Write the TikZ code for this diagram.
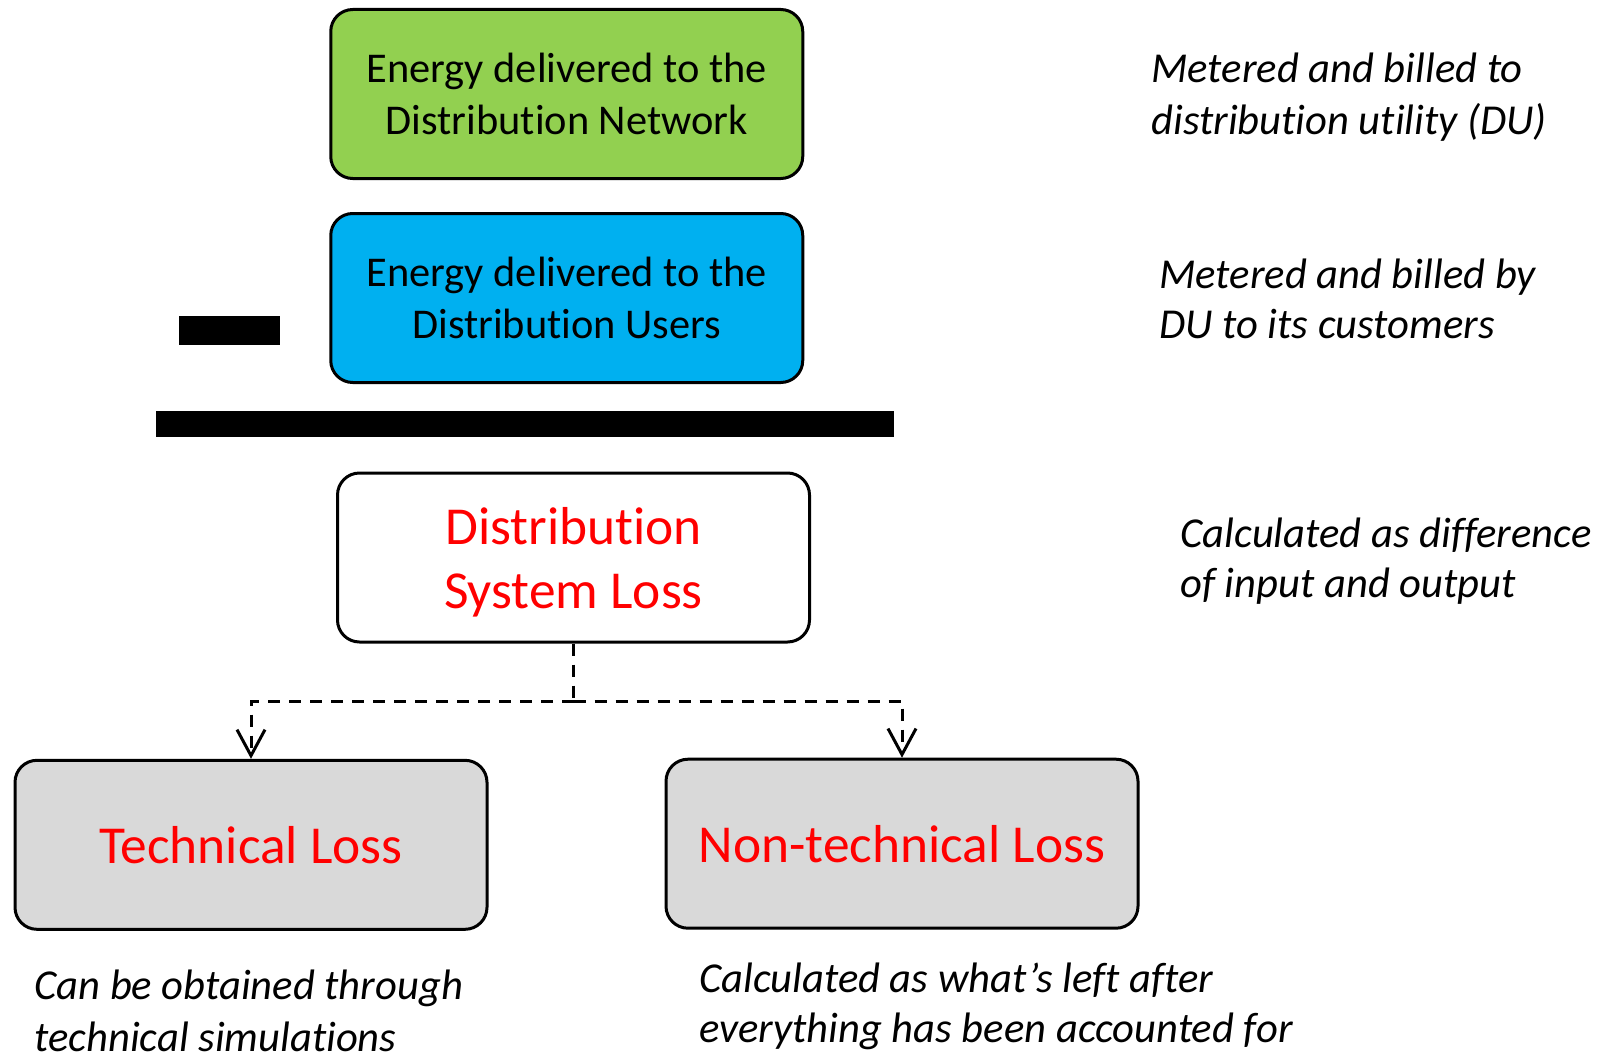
\documentclass[tikz,border=0pt]{standalone}
\usepackage{fontspec}
\setmainfont{Carlito}[Ligatures={NoCommon}]
\usetikzlibrary{arrows.meta}
\definecolor{boxgreen}{HTML}{92D050}
\definecolor{boxblue}{HTML}{00B0F0}
\definecolor{boxgray}{HTML}{D9D9D9}
\definecolor{lossred}{HTML}{FF0000}
\begin{document}
\begin{tikzpicture}[x=0.5pt,y=-0.5pt,
  box/.style={draw=black, line width=1.5pt, rounded corners=11pt, minimum width=236pt, minimum height=84.5pt, inner sep=0pt, align=center},
  blacktext/.style={font=\fontsize{21.2}{25.8}\selectfont},
  redtext/.style={text=lossred, font=\fontsize{26.7}{32}\selectfont},
  note/.style={anchor=base west, inner sep=0pt, align=left, font=\fontsize{21.3}{25}\selectfont\itshape},
  widenote/.style={note, font=\fontsize{21.3}{26}\selectfont\itshape},
  link/.style={line width=1.5pt, dash pattern=on 6pt off 4.5pt},
  tip/.style={-{Straight Barb[length=13pt,width=14pt]}}
]
\useasboundingbox[fill=white] (0,0) rectangle (1610,1054);

\node[box, fill=boxgreen, blacktext] (net) at (566.75,94) {Energy delivered to the\\Distribution Network};
\node[box, fill=boxblue, blacktext] (users) at (566.75,298) {Energy delivered to the\\Distribution Users};
\node[box, fill=white, redtext, text depth=-2.5pt] (dsl) at (573.5,557.5) {Distribution\\System Loss};
\node[box, fill=boxgray, redtext] (tech) at (251,844.8) {Technical Loss};
\node[box, fill=boxgray, redtext] (ntech) at (902,843.7) {Non-technical Loss};

\fill[black] (178.5,316) rectangle (280,345);
\fill[black] (156,411) rectangle (894,437);

\coordinate (split) at (573.5,701);
\draw[link] (dsl.south) -- (split);
\draw[link,tip] (split) -| (tech.north);
\draw[link,tip] (split) -| (ntech.north);

\node[widenote] (n1) at (1151,134) {Metered and billed to\\distribution utility (DU)};
\node[note] (n2) at (1159,338) {Metered and billed by\\DU to its customers};
\node[note] (n3) at (1180,597) {Calculated as difference\\of input and output};
\node[widenote] (n4) at (34,1051) {Can be obtained through\\technical simulations};
\node[note] (n5) at (698.7,1042) {Calculated as what’s left after\\everything has been accounted for};
\end{tikzpicture}
\end{document}
